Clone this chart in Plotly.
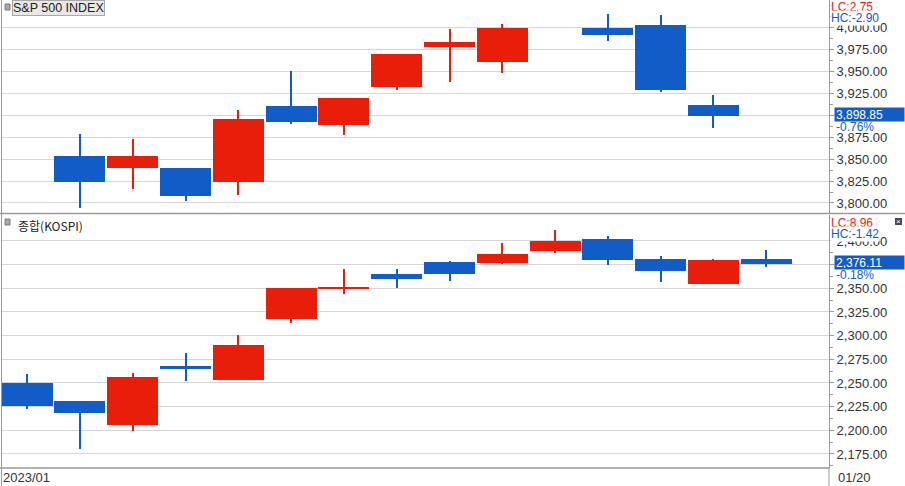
import plotly.graph_objects as go

# ---------------- data ----------------
dates = ["2023-01-02", "2023-01-03", "2023-01-04", "2023-01-05", "2023-01-06",
         "2023-01-09", "2023-01-10", "2023-01-11", "2023-01-12", "2023-01-13",
         "2023-01-16", "2023-01-17", "2023-01-18", "2023-01-19", "2023-01-20"]

spx_open = [None, 3853.29, 3840.36, 3839.74, 3823.37, 3910.82, 3888.57, 3932.35,
            3977.57, 3960.60, None, 3999.28, 4002.25, 3911.84, None]
spx_high = [None, 3878.46, 3873.16, 3839.74, 3906.19, 3950.57, 3919.83, 3970.07,
            3997.76, 4003.95, None, 4015.39, 4014.16, 3922.94, None]
spx_low = [None, 3794.33, 3815.77, 3802.42, 3809.56, 3890.42, 3877.29, 3928.54,
           3937.56, 3947.67, None, 3984.57, 3926.59, 3885.54, None]
spx_close = [None, 3824.14, 3852.97, 3808.10, 3895.08, 3892.09, 3919.25, 3969.61,
             3983.17, 3999.09, None, 3990.97, 3928.86, 3898.85, None]

kospi_open = [2249.95, 2230.98, 2205.98, 2268.10, 2253.38, 2317.05, 2348.93, 2365.20,
              2377.80, 2377.10, 2389.80, 2402.10, 2381.00, 2354.90, 2380.90]
kospi_high = [2259.88, 2230.98, 2260.05, 2281.43, 2300.58, 2350.52, 2370.09, 2370.40,
              2378.90, 2397.90, 2411.60, 2405.60, 2384.20, 2381.00, 2390.50]
kospi_low = [2222.96, 2180.67, 2198.87, 2252.15, 2253.38, 2313.75, 2343.58, 2350.60,
             2358.00, 2376.00, 2387.70, 2375.00, 2357.00, 2354.90, 2372.80]
kospi_close = [2225.67, 2218.68, 2255.98, 2264.65, 2289.97, 2350.19, 2351.31, 2359.88,
               2365.10, 2386.09, 2399.86, 2379.39, 2368.32, 2380.34, 2376.11]

spx_ticks = [3800, 3825, 3850, 3875, 3900, 3925, 3950, 3975, 4000]
spx_ticktext = ["3,800.00", "3,825.00", "3,850.00", "3,875.00", "", "3,925.00",
                "3,950.00", "3,975.00", "4,000.00"]
kospi_ticks = [2175, 2200, 2225, 2250, 2275, 2300, 2325, 2350, 2375, 2400]
kospi_ticktext = ["2,175.00", "2,200.00", "2,225.00", "2,250.00", "2,275.00", "2,300.00",
                  "2,325.00", "2,350.00", "", "2,400.00"]

spx_title = "S&P 500 INDEX"
kospi_title = "종합(KOSPI)"
spx_lc, spx_hc = "LC:2.75", "HC:-2.90"
kospi_lc, kospi_hc = "LC:8.96", "HC:-1.42"
spx_last_label, spx_pct = "3,898.85", "-0.76%"
kospi_last_label, kospi_pct = "2,376.11", "-0.18%"
x_start_label, x_end_label = "2023/01", "01/20"

# ---------------- styles ----------------
RED = "#E81E0B"
BLUE = "#125CC8"
GRID = "#D6D6D6"
AXIS = "#9A9A9A"
TXT = "#333333"
FONT = "Liberation Sans, Arial, sans-serif"

W, H = 905, 486
ML, MR, MT, MB = 2, 76, 0, 18
PW, PH = W - ML - MR, H - MT - MB


def px(x):
    return (x - ML) / PW


def py(y):
    return 1 - (y - MT) / PH


idx = list(range(len(dates)))


def candle_traces(o, h, l, c, yaxis):
    cols, base, size, wbase, wsize = [], [], [], [], []
    for oo, hh, ll, cc in zip(o, h, l, c):
        if oo is None:
            cols.append(RED)
            base.append(None); size.append(None)
            wbase.append(None); wsize.append(None)
            continue
        cols.append(RED if cc >= oo else BLUE)
        base.append(min(oo, cc)); size.append(abs(cc - oo))
        wbase.append(ll); wsize.append(hh - ll)
    wick = go.Bar(x=idx, y=wsize, base=wbase, width=0.038, marker=dict(color=cols, line=dict(width=0)),
                  yaxis=yaxis, hoverinfo="skip", showlegend=False)
    body = go.Bar(x=idx, y=size, base=base, width=0.966, marker=dict(color=cols, line=dict(width=0)),
                  yaxis=yaxis, hoverinfo="skip", showlegend=False)
    return [wick, body]


fig = go.Figure()
for t in candle_traces(spx_open, spx_high, spx_low, spx_close, "y"):
    fig.add_trace(t)
for t in candle_traces(kospi_open, kospi_high, kospi_low, kospi_close, "y2"):
    fig.add_trace(t)

top_range = [3788.6, 4031.1]
bot_range = [2160.2, 2427.4]
top_dom = [py(213), 1]
bot_dom = [0, py(215)]


def right_axis(dom, rng, ticks, ticktext):
    return dict(domain=dom, range=rng, side="right", anchor="x",
                tickmode="array", tickvals=ticks, ticktext=ticktext,
                ticks="outside", ticklen=4, tickcolor=AXIS, tickwidth=1,
                showline=True, linecolor=AXIS, linewidth=1,
                showgrid=True, gridcolor=GRID, gridwidth=1, zeroline=False,
                tickfont=dict(family=FONT, size=13, color=TXT),
                minor=dict(tickmode="linear", dtick=12.5, tick0=0, ticks="outside",
                           ticklen=3, tickcolor=AXIS, showgrid=False),
                fixedrange=True, automargin=False)


def left_axis(over, rng):
    return dict(overlaying=over, range=rng, side="left", anchor="x",
                tickmode="linear", dtick=12.5, tick0=0, ticks="inside", ticklen=4,
                tickcolor=AXIS, showticklabels=False, showgrid=False, zeroline=False,
                showline=False, fixedrange=True)


shapes = []
# vertical frame lines
shapes.append(dict(type="line", xref="paper", yref="paper", x0=px(1.5), x1=px(1.5),
                   y0=1, y1=py(486), line=dict(color=AXIS, width=1)))
shapes.append(dict(type="line", xref="paper", yref="paper", x0=px(829), x1=px(829),
                   y0=py(468), y1=py(486), line=dict(color=AXIS, width=1)))
# panel separator and bottom axis line
shapes.append(dict(type="line", xref="paper", yref="paper", x0=px(0), x1=px(905),
                   y0=py(213.5), y1=py(213.5), line=dict(color=AXIS, width=1.5)))
shapes.append(dict(type="line", xref="paper", yref="paper", x0=px(0), x1=px(829),
                   y0=py(468), y1=py(468), line=dict(color=AXIS, width=1.5)))
# small title icons
for yy in (4, 219):
    shapes.append(dict(type="rect", xref="paper", yref="paper", x0=px(5), x1=px(10),
                       y0=py(yy), y1=py(yy + 6), fillcolor="#A8A8A8",
                       line=dict(color="#7A7A7A", width=1)))
# close icon on bottom panel
shapes.append(dict(type="rect", xref="paper", yref="paper", x0=px(895), x1=px(902),
                   y0=py(218), y1=py(225), fillcolor="#4A4A4A", line=dict(width=0)))

annotations = [
    dict(text=spx_title, xref="paper", yref="paper", x=px(12), y=py(0), xanchor="left",
         yanchor="top", showarrow=False, bgcolor="#E8E8E8", bordercolor="#A8A8A8",
         borderwidth=1, borderpad=0, font=dict(family=FONT, size=12.5, color="#222")),
    dict(text=kospi_title, xref="paper", yref="paper", x=px(16), y=py(215), xanchor="left",
         yanchor="top", showarrow=False,
         font=dict(family="Noto Sans CJK KR, sans-serif", size=12, color="#222")),
    dict(text=spx_lc, xref="paper", yref="paper", x=px(830), y=py(-1), xanchor="left",
         yanchor="top", showarrow=False, bgcolor="white", borderpad=0,
         font=dict(family=FONT, size=12, color=RED)),
    dict(text=spx_hc, xref="paper", yref="paper", x=px(830), y=py(10), xanchor="left",
         yanchor="top", showarrow=False, bgcolor="white", borderpad=0,
         font=dict(family=FONT, size=12, color=BLUE)),
    dict(text=kospi_lc, xref="paper", yref="paper", x=px(830), y=py(215), xanchor="left",
         yanchor="top", showarrow=False, bgcolor="white", borderpad=0,
         font=dict(family=FONT, size=12, color=RED)),
    dict(text=kospi_hc, xref="paper", yref="paper", x=px(830), y=py(226), xanchor="left",
         yanchor="top", showarrow=False, bgcolor="white", borderpad=0,
         font=dict(family=FONT, size=12, color=BLUE)),
    dict(text=spx_last_label, xref="paper", yref="y", x=px(834), y=spx_close[13], yshift=2,
         xanchor="left", yanchor="middle", showarrow=False, bgcolor=BLUE, borderpad=1,
         width=67, height=11, align="left", font=dict(family=FONT, size=12, color="white")),
    dict(text=spx_pct, xref="paper", yref="y", x=px(835), y=spx_close[13], yshift=-11,
         xanchor="left", yanchor="middle", showarrow=False, borderpad=0,
         font=dict(family=FONT, size=12, color=BLUE)),
    dict(text=kospi_last_label, xref="paper", yref="y2", x=px(834), y=kospi_close[14], yshift=1,
         xanchor="left", yanchor="middle", showarrow=False, bgcolor=BLUE, borderpad=1,
         width=67, height=11, align="left", font=dict(family=FONT, size=12, color="white")),
    dict(text=kospi_pct, xref="paper", yref="y2", x=px(835), y=kospi_close[14], yshift=-11,
         xanchor="left", yanchor="middle", showarrow=False, borderpad=0,
         font=dict(family=FONT, size=12, color=BLUE)),
    dict(text="×", xref="paper", yref="paper", x=px(898.5), y=py(221.5), xanchor="center",
         yanchor="middle", showarrow=False, borderpad=0,
         font=dict(family=FONT, size=8, color="white")),
    dict(text=x_start_label, xref="paper", yref="paper", x=px(2), y=py(469), xanchor="left",
         yanchor="top", showarrow=False, borderpad=0, font=dict(family=FONT, size=13, color=TXT)),
    dict(text=x_end_label, xref="paper", yref="paper", x=px(837), y=py(469), xanchor="left",
         yanchor="top", showarrow=False, borderpad=0, font=dict(family=FONT, size=13, color=TXT)),
]

fig.update_layout(
    width=W, height=H,
    margin=dict(l=ML, r=MR, t=MT, b=MB, pad=0),
    paper_bgcolor="white", plot_bgcolor="white",
    barmode="overlay", bargap=0,
    showlegend=False,
    xaxis=dict(range=[-0.477, 15.188], anchor="y2", showgrid=False, showticklabels=False,
               zeroline=False, showline=False, ticks="", fixedrange=True),
    yaxis=right_axis(top_dom, top_range, spx_ticks, spx_ticktext),
    yaxis2=right_axis(bot_dom, bot_range, kospi_ticks, kospi_ticktext),
    yaxis3=left_axis("y", top_range),
    yaxis4=left_axis("y2", bot_range),
    shapes=shapes,
    annotations=annotations,
)

fig.write_html("out.html", config={"displayModeBar": False},
               post_script="document.body.style.margin='0';document.body.style.overflow='hidden';")
